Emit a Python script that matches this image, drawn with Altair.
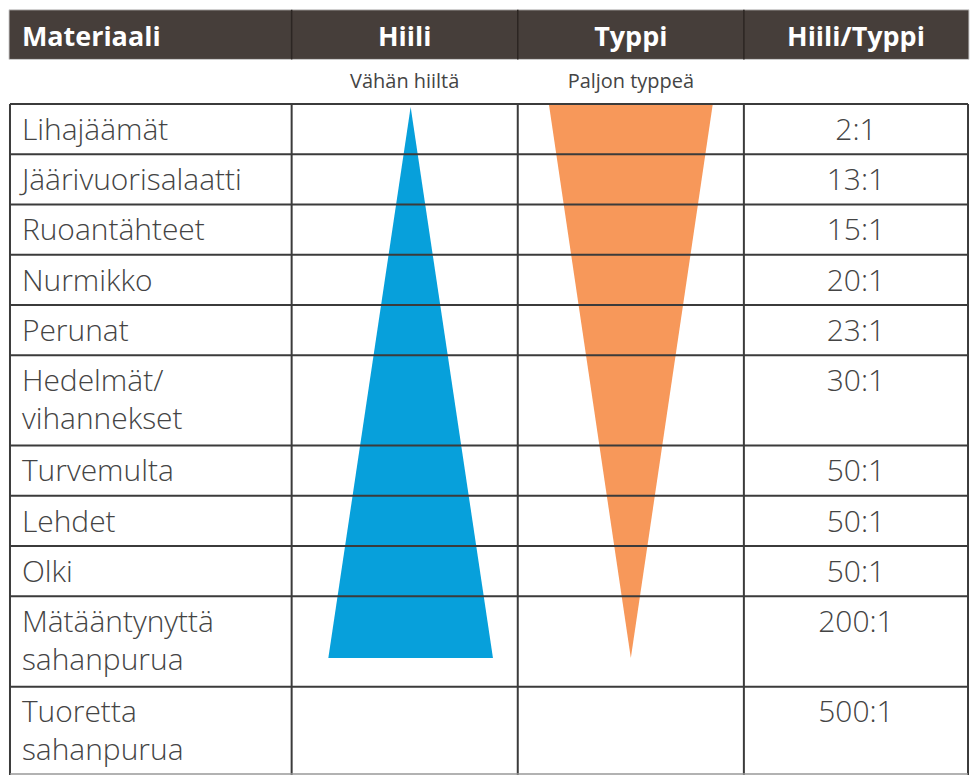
import altair as alt
import pandas as pd

# ---- data ----
headers = ["Materiaali", "Hiili", "Typpi", "Hiili/Typpi"]
sub_labels = ["", "Vähän hiiltä", "Paljon typpeä", ""]
materials = [
    ["Lihajäämät"],
    ["Jäärivuorisalaatti"],
    ["Ruoantähteet"],
    ["Nurmikko"],
    ["Perunat"],
    ["Hedelmät/", "vihannekset"],
    ["Turvemulta"],
    ["Lehdet"],
    ["Olki"],
    ["Mätääntynyttä", "sahanpurua"],
    ["Tuoretta", "sahanpurua"],
]
ratios = ["2:1", "13:1", "15:1", "20:1", "23:1", "30:1", "50:1", "50:1", "50:1", "200:1", "500:1"]

# ---- layout (reference pixel units) ----
X0, X1 = 5, 973
Y0, Y1 = 4, 776
col_edges = [6, 290, 518, 746, 972]
header_top, header_bot = 5, 55
table_top = 100
single_h, double_h, last_h = 50.6, 91, 89
line_gap = 38
first_base = 36
label_x = 18
FONT = "Open Sans"
TEXT_COL = "#444444"
GRID_COL = "#3b3b3b"

# row boundaries
row_tops = []
y = table_top
for i, m in enumerate(materials):
    row_tops.append(y)
    if i == len(materials) - 1:
        y += last_h
    elif len(m) > 1:
        y += double_h
    else:
        y += single_h
row_bounds = row_tops + [y]

col_centers = [(col_edges[i] + col_edges[i + 1]) / 2 for i in range(4)]

xs = alt.Scale(domain=[X0, X1], nice=False, zero=False)
ys = alt.Scale(domain=[Y0, Y1], nice=False, zero=False, reverse=True)

def X(f):
    return alt.X(f, type="quantitative", scale=xs, axis=None)

def Yc(f):
    return alt.Y(f, type="quantitative", scale=ys, axis=None)

# header background
hdr = pd.DataFrame([{"x": X0, "x2": X1, "y": header_top, "y2": header_bot}])
header_rect = alt.Chart(hdr).mark_rect(fill="#463e3a", stroke="#cfcfcf", strokeWidth=1).encode(
    x=X("x"), x2="x2", y=Yc("y"), y2="y2")

hsep = pd.DataFrame([{"x": c, "y": header_top, "y2": header_bot} for c in col_edges[1:-1]])
header_seps = alt.Chart(hsep).mark_rule(color="#2c2623", strokeWidth=1.5).encode(
    x=X("x"), y=Yc("y"), y2="y2")

hdr_text = pd.DataFrame([
    {"t": headers[i], "x": (label_x if i == 0 else col_centers[i]), "y": 41,
     "al": ("left" if i == 0 else "center")} for i in range(4)])
header_left = alt.Chart(hdr_text[hdr_text.al == "left"]).mark_text(
    align="left", baseline="alphabetic", font=FONT, fontSize=27, fontWeight="bold", color="white"
).encode(x=X("x"), y=Yc("y"), text="t:N")
header_center = alt.Chart(hdr_text[hdr_text.al == "center"]).mark_text(
    align="center", baseline="alphabetic", font=FONT, fontSize=27, fontWeight="bold", color="white"
).encode(x=X("x"), y=Yc("y"), text="t:N")

sub_df = pd.DataFrame([{"t": sub_labels[i], "x": col_centers[i], "y": 84}
                       for i in range(4) if sub_labels[i]])
sub_text = alt.Chart(sub_df).mark_text(
    align="center", baseline="alphabetic", font=FONT, fontSize=20, color=TEXT_COL
).encode(x=X("x"), y=Yc("y"), text="t:N")

# triangles
tri_bottom = 658
blue_c = 410
blue_half = 83
orange_c = col_centers[2]
orange_half = 82.5
blue_df = pd.DataFrame([
    {"y": table_top + 3, "x": blue_c, "x2": blue_c},
    {"y": tri_bottom, "x": blue_c - blue_half, "x2": blue_c + blue_half},
])
orange_df = pd.DataFrame([
    {"y": table_top + 1, "x": orange_c - orange_half, "x2": orange_c + orange_half},
    {"y": tri_bottom, "x": orange_c, "x2": orange_c},
])
blue_tri = alt.Chart(blue_df).mark_area(orient="horizontal", color="#07a0db", opacity=1).encode(
    y=Yc("y"), x=X("x"), x2="x2")
orange_tri = alt.Chart(orange_df).mark_area(orient="horizontal", color="#f7985a", opacity=1).encode(
    y=Yc("y"), x=X("x"), x2="x2")

# grid
hl = pd.DataFrame([{"x": col_edges[0], "x2": col_edges[-1], "y": b} for b in row_bounds[:-1]])
h_rules = alt.Chart(hl).mark_rule(color=GRID_COL, strokeWidth=2).encode(
    x=X("x"), x2="x2", y=Yc("y"))
bottom_df = pd.DataFrame([{"x": col_edges[0], "x2": col_edges[-1], "y": row_bounds[-1] - 1}])
bottom_rule = alt.Chart(bottom_df).mark_rule(color="#999999", strokeWidth=1.5).encode(
    x=X("x"), x2="x2", y=Yc("y"))
vl = pd.DataFrame([{"x": c, "y": table_top, "y2": row_bounds[-1]} for c in col_edges])
v_rules = alt.Chart(vl).mark_rule(color=GRID_COL, strokeWidth=2).encode(
    x=X("x"), y=Yc("y"), y2="y2")

# row texts
lines = []
for i, m in enumerate(materials):
    for j, ln in enumerate(m):
        lines.append({"t": ln, "x": label_x, "y": row_tops[i] + first_base + j * line_gap})
lines_df = pd.DataFrame(lines)
row_text = alt.Chart(lines_df).mark_text(
    align="left", baseline="alphabetic", font=FONT, fontSize=30, fontWeight=300, color=TEXT_COL
).encode(x=X("x"), y=Yc("y"), text="t:N")

ratio_df = pd.DataFrame([{"t": r, "x": col_centers[3], "y": row_tops[i] + first_base}
                         for i, r in enumerate(ratios)])
ratio_text = alt.Chart(ratio_df).mark_text(
    align="center", baseline="alphabetic", font=FONT, fontSize=30, fontWeight=300, color=TEXT_COL
).encode(x=X("x"), y=Yc("y"), text="t:N")

chart = alt.layer(
    header_rect, header_seps, header_left, header_center, sub_text,
    blue_tri, orange_tri, h_rules, v_rules, bottom_rule, row_text, ratio_text
).properties(width=962, height=768, padding=0, background="white"
).configure_view(stroke=None)

chart.save("out.html", embed_options={"renderer": "svg", "actions": False})
